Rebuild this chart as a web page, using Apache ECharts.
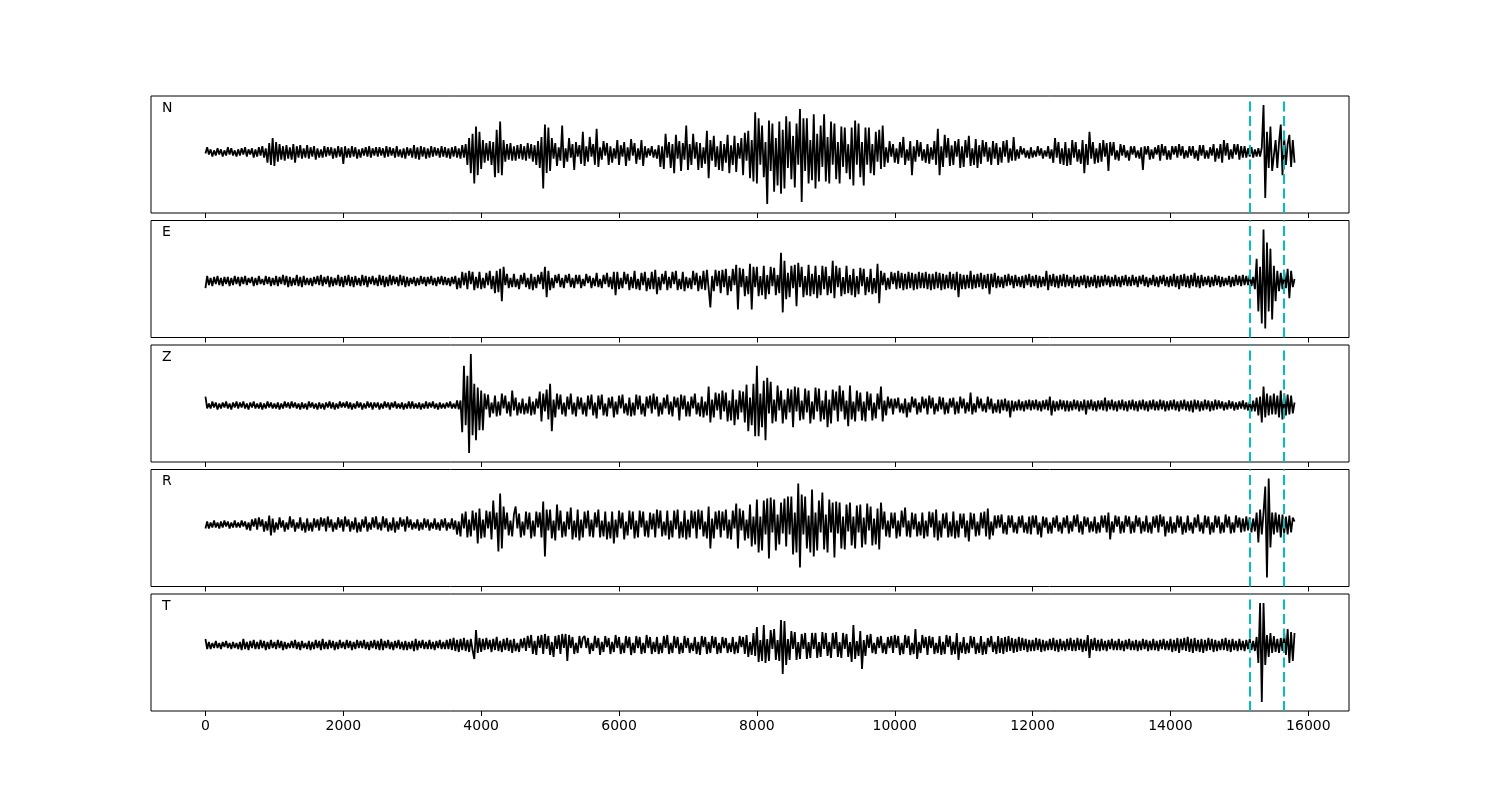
<!DOCTYPE html>
<html>
<head>
<meta charset="utf-8">
<script src="https://cdn.jsdelivr.net/npm/echarts@6/dist/echarts.min.js"></script>
<style>html,body{margin:0;padding:0;background:#fff}#c{width:1500px;height:800px}</style>
</head>
<body>
<div id="c"></div>
<script>
// sample spacing of the traces (x units); each row below = 500 x units
const STEP = 25;
const xTicks = [0, 2000, 4000, 6000, 8000, 10000, 12000, 14000, 16000];
const markers = [15150, 15650];
const labels = ['N', 'E', 'Z', 'R', 'T'];

const traceN = [
 -1, 5, -2, 3, -4, 2, -3, 4, -2, 3, -4, 2, -3, 5, -2, 4, -3, 2, -4, 3,
 -3, 4, -2, 5, -4, 3, -2, 4, -5, 3, -4, 5, -3, 6, -5, 4, -10, 9, -12, 14,
 -13, 10, -9, 8, -7, 6, -8, 7, -6, 5, -7, 8, -10, 6, -5, 7, -6, 4, -5, 7,
 -6, 5, -4, 6, -7, 4, -5, 3, -5, 6, -4, 5, -3, 5, -6, 4, -5, 6, -4, 5,
 -11, 6, -5, 4, -5, 6, -4, 5, -6, 3, -5, 4, -3, 5, -4, 6, -5, 4, -3, 5,
 -4, 5, -3, 4, -5, 6, -4, 5, -3, 4, -5, 6, -4, 3, -5, 4, -6, 5, -3, 4,
 -5, 7, -6, 5, -7, 6, -4, 5, -6, 4, -5, 6, -4, 5, -3, 4, -5, 6, -4, 5,
 -5, 4, -6, 5, -4, 6, -5, 4, -6, 7, -5, 8, -12, 14, -20, 18, -30, 25, -22, 20,
 -16, 12, -10, 9, -8, 11, -12, 10, -24, 22, -20, 30, -22, 12, -9, 8, -7, 9, -8, 6,
 -8, 7, -6, 8, -7, 6, -8, 9, -6, 8, -9, 7, -12, 11, -15, 15, -35, 27, -20, 24,
 -18, 14, -6, 9, -13, 5, -8, 26, -15, 4, -9, 14, -5, 8, -17, 10, -4, 7, -11, 20,
 -13, 6, -9, 15, -4, 8, -12, 23, -14, 5, -7, 11, -3, 9, -12, 6, -10, 4, -6, 12,
 -12, 7, -4, 10, -13, 5, -8, 13, -3, 9, -11, 4, -7, 12, -13, 6, -5, 4, -3, 6,
 -5, 3, -6, 7, -14, 6, -16, 18, -5, 10, -15, 8, -20, 17, -6, 11, -18, 9, -7, 26,
 -17, 8, -12, 18, -6, 10, -17, 9, -15, 5, -11, 21, -25, 12, -8, 16, -14, 6, -17, 11,
 -18, 8, -10, 17, -20, 7, -12, 16, -19, 9, -6, 14, -22, 19, -8, 21, -25, 12, -28, 39,
 -30, 33, -12, 26, -24, 10, -50, 31, -18, 28, -38, 14, -32, 30, -40, 22, -35, 35, -15, 30,
 -26, 16, -34, 28, -12, 42, -48, 33, -18, 33, -30, 12, -27, 37, -35, 18, -28, 26, -14, 37,
 -28, 15, -30, 30, -12, 28, -26, 10, -30, 25, -14, 24, -20, 8, -26, 24, -32, 31, -12, 28,
 -24, 10, -32, 24, -12, 24, -20, 8, -22, 20, -9, 22, -16, 26, -14, 5, -10, 11, -4, 8,
 -10, 4, -11, 10, -5, 15, -12, 3, -8, 11, -22, 6, -9, 12, -4, 10, -8, 3, -10, 8,
 -11, 5, -7, 11, -12, 23, -22, 6, -14, 17, -5, 14, -13, 7, -12, 11, -4, 13, -15, 6,
 -14, 12, -5, 16, -13, 4, -12, 13, -15, 7, -11, 12, -4, 10, -9, 5, -12, 11, -6, 9,
 -12, 5, -10, 11, -4, 12, -10, 4, -8, 15, -8, 3, -6, 6, -2, 4, -5, 2, -6, 5,
 -5, 2, -4, 6, -3, 4, -6, 2, -4, 6, -6, 3, -10, 14, -5, 10, -11, 4, -12, 10,
 -13, 4, -12, 12, -5, 10, -9, 3, -11, 12, -20, 8, -12, 20, -6, 10, -11, 4, -10, 9,
 -9, 12, -4, 9, -18, 10, -3, 10, -7, 2, -8, 8, -3, 7, -5, 2, -8, 6, -2, 6,
 -5, 2, -6, 5, -17, 6, -2, 6, -7, 3, -6, 5, -2, 7, -8, 8, -3, 6, -7, 2,
 -7, 6, -2, 6, -5, 8, -3, 6, -6, 2, -5, 6, -3, 6, -6, 2, -8, 7, -3, 7,
 -6, 2, -6, 5, -3, 8, -9, 4, -6, 8, -10, 12, -3, 9, -7, 3, -6, 8, -2, 8,
 -7, 6, -5, 6, -5, 4, -4, 5, -5, 3, -4, 4, -4, 5, 46, -44, 20, -15, 25, -18,
 -18, 12, -15, 10, 27, -22, 14, -12, 8, 17, -14, 12, -10
];

const traceE = [
 -7, 5, -4, 3, -5, 4, -3, 5, -4, 3, -5, 4, -3, 4, -5, 3, -4, 5, -3, 4,
 -5, 4, -3, 5, -4, 3, -2, 4, -5, 3, -4, 5, -3, 2, -4, 5, -3, 4, -5, 3,
 -4, 5, -5, 4, -3, 6, -4, 5, -6, 4, -5, 3, -4, 6, -5, 4, -6, 5, -4, 3,
 -4, 3, -5, 4, -3, 5, -4, 6, -5, 4, -3, 5, -6, 4, -5, 3, -4, 6, -5, 4,
 -6, 5, -4, 6, -5, 4, -6, 5, -4, 3, -5, 6, -4, 5, -6, 4, -3, 5, -4, 3,
 -5, 6, -4, 5, -6, 4, -5, 6, -4, 5, -3, 4, -5, 6, -4, 5, -6, 4, -5, 3,
 -3, 4, -5, 3, -4, 5, -3, 4, -5, 4, -3, 5, -4, 3, -5, 4, -3, 5, -4, 4,
 -4, 3, -5, 4, -3, 5, -8, 3, -7, 9, -4, 8, -8, 10, -3, 9, -9, 4, -7, 9,
 -8, 3, -7, 8, -4, 10, -8, 5, -12, 10, -11, 12, -20, 14, -4, 7, -7, 3, -6, 7,
 -6, 2, -8, 6, -3, 8, -6, 3, -8, 7, -9, 4, -7, 6, -3, 9, -8, 14, -16, 10,
 -9, 3, -7, 6, -2, 7, -6, 3, -7, 6, -2, 7, -6, 3, -7, 6, -3, 6, -7, 2,
 -5, 7, -2, 5, -7, 3, -5, 8, -6, 2, -7, 6, -3, 8, -6, 4, -8, 9, -14, 9,
 -8, 3, -7, 9, -3, 7, -9, 4, -7, 10, -8, 2, -9, 8, -4, 9, -10, 3, -8, 9,
 -8, 11, -13, 4, -9, 7, -3, 10, -9, 4, -7, 9, -3, 10, -9, 2, -8, 9, -10, 4,
 -7, 3, -8, 10, -4, 8, -10, 5, -8, 10, -9, 11, 12, -26, 5, -10, 11, -5, 10, -12,
 11, -6, 12, -14, 5, -10, 12, -4, 16, -28, 13, -6, 12, -15, 5, -13, 17, -28, 14, -6,
 14, -15, 5, -14, 15, -18, 6, -13, 14, -5, 13, -14, 6, -12, 28, -31, 20, -18, 8, -16,
 15, -7, 16, -25, 18, -6, 14, -16, 5, -14, 16, -15, 7, -13, 15, -17, 6, -14, 15, -8,
 14, -14, 5, -12, 20, -17, 15, -6, 13, -15, 4, -13, 15, -12, 6, -14, 12, -16, 5, -13,
 13, -5, 12, -14, 4, -11, 12, -13, 3, -12, 17, -22, 10, -4, 8, -9, 3, -8, 9, -3,
 8, -8, 10, -7, 8, -9, 7, -8, 9, -7, 8, -9, 7, -8, 9, -7, 8, -7, 9, -8,
 7, -9, 7, -8, 9, -7, 8, -9, 7, -8, 6, -7, 9, -8, 7, -9, 9, -16, 7, -8,
 6, -8, 6, -7, 10, -8, 6, -7, 7, -6, 8, -8, 6, -7, 7, -13, 7, -6, 8, -7,
 5, -6, 4, -7, 6, -5, 7, -4, 5, -7, 6, -5, 4, -6, 5, -7, 6, -4, 7, -6,
 5, -5, 6, -7, 5, -6, 4, -5, 10, -9, 6, -5, 7, -6, 5, -7, 6, -5, 7, -6,
 6, -5, 4, -7, 6, -5, 4, -6, 5, -4, 6, -7, 5, -6, 4, -5, 6, -7, 5, -6,
 5, -5, 6, -4, 5, -6, 4, -5, 6, -5, 4, -6, 5, -4, 6, -5, 4, -5, 6, -4,
 4, -6, 5, -3, 6, -5, 4, -6, 3, -4, 6, -5, 4, -6, 5, -3, 6, -5, 4, -6,
 5, -5, 7, -6, 5, -8, 6, -5, 7, -6, 5, -7, 6, -5, 8, -6, 5, -7, 6, -5,
 4, -4, 5, -6, 4, -5, 6, -4, 5, -6, 4, -5, 3, -4, 5, -6, 4, -5, 6, -4,
 5, -5, 6, -4, 5, -4, 6, -5, 4, -8, 22, -30, 14, -42, 51, -47, 38, -30, 32, -38,
 15, -20, 10, -10, 8, -8, 9, -7, 12, -17, 10, -6, 2
];

const traceZ = [
 9, -3, 2, -3, 4, -2, 3, -4, 2, -3, 3, -2, 4, -3, 2, -4, 3, -2, 4, -3,
 3, -2, 4, -3, 2, -4, 3, -2, 4, -3, 2, -3, 3, -4, 2, -3, 4, -2, 3, -3,
 2, -3, 3, -4, 2, -3, 4, -2, 3, -3, 4, -2, 3, -3, 2, -4, 3, -3, 2, -4,
 4, -2, 3, -3, 2, -4, 3, -3, 2, -4, 3, -2, 4, -3, 3, -4, 2, -3, 4, -2,
 3, -2, 4, -3, 3, -4, 2, -3, 4, -2, 3, -4, 2, -3, 4, -2, 3, -4, 3, -2,
 3, -4, 2, -3, 4, -2, 3, -4, 3, -2, 4, -3, 2, -3, 3, -4, 2, -3, 4, -3,
 4, -3, 2, -3, 3, -4, 2, -3, 4, -3, 3, -2, 4, -3, 2, -4, 3, -3, 2, -3,
 3, -2, 4, -3, 2, -3, 5, -4, 5, -27, 40, -20, 30, -48, 52, -30, 22, -35, 18, -25,
 15, -25, 12, -4, 11, -12, 3, -8, 10, -11, 4, -10, 12, -3, 10, -8, 4, -11, 15, -5,
 8, -10, 3, -8, 7, -9, 2, -8, 9, -10, 4, -9, 7, -3, 14, -16, 12, -6, 16, -14,
 22, -26, 6, -12, 12, -4, 11, -9, 3, -11, 9, -4, 12, -9, 3, -11, 9, -4, 8, -9,
 3, -11, 10, -4, 11, -10, 3, -13, 10, -4, 11, -10, 2, -11, 8, -3, 9, -12, 4, -9,
 10, -3, 11, -8, 2, -10, 8, -11, 3, -10, 11, -4, 10, -9, 2, -11, 9, -3, 10, -8,
 12, -4, 9, -11, 3, -9, 8, -3, 11, -9, 4, -11, 9, -2, 8, -15, 11, -4, 10, -11,
 4, -11, 9, -3, 12, -9, 3, -11, 9, -12, 4, -10, 19, -17, 6, -12, 13, -5, 12, -14,
 15, -6, 13, -16, 5, -15, 16, -20, 6, -14, 15, -7, 14, -17, 21, -26, 8, -20, 22, -31,
 40, -31, 12, -22, 25, -35, 28, -8, 24, -18, 6, -16, 20, -5, 15, -18, 6, -14, 17, -7,
 16, -22, 19, -6, 18, -15, 5, -14, 17, -7, 15, -18, 4, -14, 18, -6, 17, -16, 5, -14,
 15, -22, 6, -18, 16, -5, 14, -16, 20, -6, 15, -14, 5, -21, 20, -14, 4, -16, 15, -6,
 13, -15, 4, -16, 14, -5, 12, -15, 3, -13, 12, -4, 19, -16, 5, -10, 9, -3, 7, -9,
 7, -3, 8, -7, 2, -8, 7, -12, 3, -7, 9, -2, 7, -9, 3, -7, 9, -3, 7, -9,
 10, -3, 8, -9, 2, -6, 9, -4, 8, -9, 3, -8, 7, -2, 8, -9, 4, -8, 9, -3,
 7, -8, 3, -6, 13, -9, 2, -7, 9, -3, 7, -6, 2, -7, 9, -4, 7, -8, 2, -7,
 6, -8, 6, -5, 7, -6, 5, -12, 5, -6, 4, -5, 6, -5, 4, -6, 5, -4, 6, -5,
 5, -4, 6, -5, 4, -6, 5, -4, 6, -5, 9, -10, 5, -6, 4, -5, 6, -4, 5, -6,
 5, -6, 4, -5, 6, -4, 5, -6, 4, -5, 6, -9, 5, -4, 6, -5, 4, -6, 5, -4,
 5, -5, 8, -6, 5, -4, 6, -5, 4, -6, 5, -4, 6, -5, 4, -6, 5, -4, 6, -5,
 4, -6, 5, -4, 6, -5, 4, -6, 5, -4, 6, -5, 4, -5, 6, -4, 5, -6, 4, -5,
 5, -4, 6, -5, 4, -6, 5, -4, 6, -5, 4, -6, 5, -7, 6, -4, 5, -6, 4, -5,
 6, -4, 5, -6, 4, -5, 6, -4, 5, -3, 4, -5, 3, -4, 5, -3, 4, -5, 3, -4,
 4, -3, 5, -4, 3, -5, 4, -6, 5, -6, 8, -10, 9, -17, 19, -12, 12, -10, 10, -9,
 12, -9, 10, -12, 15, -14, 12, -10, 11, -9, 10, -8, 3
];

const traceR = [
 -4, 3, -4, 2, -3, 4, -3, 2, -4, 3, -3, 4, -2, 3, -4, 2, -3, 4, -3, 2,
 -3, 4, -2, 3, -5, 2, -6, 5, -2, 6, -5, 7, -2, 5, -7, 3, -6, 9, -11, 6,
 -8, 2, -5, 7, -3, 4, -7, 2, -5, 8, -3, 5, -7, 2, -4, 7, -6, 2, -8, 6,
 -6, 2, -7, 6, -3, 5, -6, 7, -2, 6, -7, 8, -3, 5, -7, 2, -5, 7, -3, 5,
 -7, 8, -2, 5, -7, 3, -5, 7, -8, 2, -7, 5, -3, 8, -7, 2, -5, 7, -3, 8,
 -5, 2, -6, 8, -3, 6, -7, 2, -6, 7, -8, 3, -5, 7, -2, 5, -7, 8, -3, 5,
 -5, 2, -4, 5, -6, 2, -5, 6, -3, 5, -6, 2, -4, 6, -5, 2, -6, 5, -3, 6,
 -6, 2, -4, 6, -5, 4, -10, 3, -12, 11, -4, 13, -13, 5, -12, 14, -6, 12, -19, 16,
 -14, 5, -13, 14, -4, 13, -15, 24, -5, 12, -27, 31, -24, 18, -5, 12, -11, 4, -12, 10,
 18, -4, 11, -13, 3, -11, 13, -5, 12, -14, 4, -12, 13, -3, 12, -13, 23, -32, 15, -6,
 15, -14, 4, -16, 20, -6, 14, -13, 3, -12, 13, -5, 17, -15, 4, -13, 15, -16, 5, -13,
 13, -4, 14, -12, 5, -13, 12, -3, 15, -13, 4, -12, 13, -15, 3, -14, 13, -19, 5, -13,
 14, -4, 12, -15, 3, -11, 14, -5, 13, -14, 4, -13, 14, -3, 13, -12, 4, -13, 12, -5,
 11, -13, 15, -4, 14, -12, 3, -11, 14, -15, 4, -13, 14, -5, 15, -14, 3, -13, 14, -15,
 5, -13, 14, -4, 13, -14, 15, -5, 14, -12, 3, -14, 18, -24, 6, -14, 13, -5, 14, -13,
 13, -6, 15, -14, 5, -15, 14, -4, 21, -24, 16, -6, 14, -16, 5, -14, 20, -22, 8, -20,
 25, -28, 8, -26, 24, -10, 26, -34, 27, -8, 25, -26, 10, -20, 22, -9, 26, -22, 28, -10,
 28, -30, 12, -28, 41, -43, 30, -10, 28, -24, 9, -28, 35, -32, 12, -26, 24, -8, 32, -25,
 10, -28, 25, -8, 22, -33, 23, -9, 22, -24, 8, -25, 20, -7, 22, -21, 8, -24, 19, -8,
 20, -23, 7, -20, 21, -6, 18, -21, 6, -20, 16, -25, 22, -5, 13, -12, 4, -13, 12, -4,
 12, -14, 4, -12, 14, -3, 17, -12, 4, -13, 12, -5, 11, -12, 3, -11, 12, -14, 4, -12,
 13, -3, 12, -13, 15, -16, 4, -13, 11, -4, 12, -13, 3, -12, 13, -14, 4, -13, 11, -4,
 11, -13, 4, -17, 12, -5, 11, -12, 3, -11, 12, -4, 13, -12, 16, -15, 3, -11, 9, -4,
 9, -3, 10, -9, 2, -10, 9, -3, 9, -8, 2, -9, 8, -3, 9, -8, 2, -9, 8, -10,
 9, -3, 9, -10, 2, -13, 8, -3, 7, -9, 2, -9, 7, -3, 9, -7, 2, -9, 7, -3,
 9, -9, 3, -7, 9, -2, 10, -8, 3, -10, 8, -2, 7, -8, 3, -7, 8, -9, 2, -8,
 9, -3, 9, -8, 12, -15, 3, -8, 9, -2, 8, -9, 3, -8, 9, -2, 8, -9, 3, -8,
 9, -2, 7, -9, 3, -7, 9, -8, 2, -9, 8, -3, 9, -8, 10, -2, 8, -12, 3, -8,
 8, -9, 2, -8, 9, -3, 8, -10, 2, -8, 9, -6, 2, -9, 7, -3, 10, -7, 2, -9,
 9, -3, 8, -10, 2, -8, 9, -3, 8, -9, 2, -8, 10, -3, 8, -9, 2, -8, 9, -3,
 7, -8, 6, -7, 8, -6, 7, -8, 6, -7, 12, -18, 15, -10, 12, 38, -53, 46, -23, 12,
 -10, 12, -8, 10, -13, 10, -9, 8, -10, 9, -8, 7, 3
];

const traceT = [
 6, -4, 3, -4, 2, -3, 4, -3, 2, -4, 3, -2, 4, -3, 2, -4, 3, -3, 2, -4,
 3, -5, 6, -4, 3, -5, 4, -3, 5, -4, 3, -4, 5, -3, 4, -5, 3, -4, 5, -3,
 3, -4, 5, -3, 4, -5, 3, -4, 2, -3, 4, -3, 5, -4, 3, -5, 4, -3, 2, -4,
 4, -5, 3, -4, 5, -3, 4, -5, 6, -4, 3, -4, 5, -3, 4, -5, 3, -4, 5, -3,
 3, -4, 5, -3, 4, -5, 3, -4, 5, -3, 4, -3, 5, -4, 3, -5, 4, -3, 5, -4,
 4, -5, 6, -5, 4, -3, 5, -4, 3, -5, 4, -3, 5, -4, 3, -5, 4, -5, 3, -4,
 4, -6, 6, -5, 4, -3, 5, -4, 3, -4, 5, -4, 3, -5, 4, -3, 5, -4, 3, -4,
 5, -4, 6, -5, 7, -6, 5, -7, 6, -5, 7, -6, 5, -7, 6, -5, -14, 15, -8, 7,
 -7, 6, -5, 7, -4, 5, -7, 6, -5, 8, -6, 4, -7, 6, -5, 7, -6, 5, -8, 6,
 -6, 2, -7, 6, -3, 7, -6, 9, -3, 10, -9, 4, -10, 9, -3, 10, -9, 11, -4, 9,
 -10, 3, -12, 9, -4, 10, -9, 11, -3, 11, -16, 10, -3, 8, -9, 2, -8, 9, -3, 7,
 9, -3, 7, -9, 2, -6, 9, -3, 7, -10, 3, -7, 9, -2, 7, -9, 3, -7, 10, -3,
 8, -9, 2, -8, 9, -3, 8, -10, 2, -8, 9, -3, 8, -9, 2, -8, 10, -3, 8, -9,
 3, -7, 8, -9, 2, -8, 9, -3, 10, -9, 2, -8, 9, -3, 8, -9, 2, -8, 9, -3,
 7, -8, 2, -6, 8, -9, 3, -10, 9, -2, 8, -9, 3, -8, 9, -3, 8, -9, 2, -8,
 8, -3, 7, -8, 2, -7, 8, -9, 3, -8, 9, -2, 8, -9, 10, -12, 3, -10, 12, -11,
 18, -17, 5, -16, 20, -18, 6, -16, 15, -4, 16, -15, 5, -16, 25, -29, 24, -20, 6, -15,
 14, -4, 13, -15, 3, -14, 11, -4, 12, -14, 3, -13, 12, -4, 12, -13, 3, -12, 13, -4,
 12, -11, 3, -13, 12, -4, 13, -12, 3, -13, 12, -4, 11, -12, 3, -17, 20, -14, 4, -11,
 14, -24, 5, -11, 10, -3, 11, -8, 2, -9, 8, -3, 9, -8, 2, -9, 8, -3, 9, -8,
 10, -3, 9, -10, 2, -9, 10, -3, 9, -10, 2, -9, 16, -14, 3, -8, 10, -3, 8, -10,
 9, -3, 8, -9, 2, -8, 9, -10, 3, -9, 10, -2, 9, -10, 3, -9, 12, -15, 3, -8,
 8, -9, 2, -8, 9, -3, 8, -9, 2, -8, 9, -10, 3, -9, 7, -2, 9, -7, 3, -9,
 9, -8, 7, -9, 8, -7, 9, -6, 7, -8, 6, -7, 8, -6, 7, -5, 6, -7, 5, -6,
 5, -6, 7, -5, 6, -7, 5, -6, 4, -5, 6, -5, 7, -6, 5, -7, 6, -5, 4, -6,
 6, -5, 7, -6, 5, -6, 7, -5, 6, -7, 5, -6, 10, -13, 6, -5, 7, -6, 5, -6,
 6, -5, 4, -6, 5, -4, 6, -5, 4, -5, 6, -5, 4, -6, 5, -4, 6, -5, 4, -5,
 5, -6, 4, -5, 6, -4, 5, -6, 4, -5, 6, -5, 4, -6, 5, -4, 6, -5, 4, -5,
 6, -7, 5, -6, 7, -8, 6, -5, 7, -6, 8, -7, 6, -8, 7, -6, 5, -7, 6, -8,
 5, -6, 7, -5, 6, -7, 5, -6, 4, -5, 6, -5, 7, -6, 5, -7, 6, -5, 4, -6,
 6, -5, 4, -6, 5, -4, 6, -5, 4, -6, 8, -18, 42, -57, 42, -20, 10, -12, 12, -8,
 9, -7, 6, -8, 7, -6, 12, -10, 16, -18, 13, -16, 12
];

const traces = [traceN, traceE, traceZ, traceR, traceT];

const PANEL_TOP = 96, PANEL_GAP = 124.5, PANEL_H = 117, LEFT = 151, RIGHT = 151;
const XMIN = -790, XMAX = 16590;

const chart = echarts.init(document.getElementById('c'), null, {renderer: 'canvas'});
const grids = [], xAxes = [], yAxes = [], series = [], graphics = [];
traces.forEach((tr, i) => {
  const top = PANEL_TOP + i * PANEL_GAP;
  grids.push({left: LEFT, right: RIGHT, top: top, height: PANEL_H, show: true,
    borderColor: '#000', borderWidth: 1, backgroundColor: 'transparent'});
  const last = i === traces.length - 1;
  xAxes.push({type: 'value', gridIndex: i, min: XMIN, max: XMAX, position: 'bottom',
    axisLine: {show: false, onZero: false},
    axisTick: {show: true, inside: false, length: 5, lineStyle: {color: '#000', width: 1}, customValues: xTicks},
    axisLabel: {show: last, color: '#000', fontFamily: 'DejaVu Sans', fontSize: 14, margin: 8,
      customValues: xTicks, formatter: v => String(v)},
    splitLine: {show: false}});
  const lo = Math.min(...tr), hi = Math.max(...tr), pad = 0.09 * (hi - lo);
  yAxes.push({type: 'value', gridIndex: i, min: lo - pad, max: hi + pad,
    axisLine: {show: false, onZero: false}, axisTick: {show: false}, axisLabel: {show: false}, splitLine: {show: false}});
  series.push({type: 'line', xAxisIndex: i, yAxisIndex: i,
    data: tr.map((v, k) => [k * STEP, v]),
    showSymbol: false, symbol: 'none', sampling: null, silent: true,
    lineStyle: {color: '#000', width: 1.8},
    markLine: {symbol: ['none', 'none'], silent: true, label: {show: false}, animation: false,
      lineStyle: {color: '#00bfbf', type: [10, 4.5], width: 2},
      emphasis: {disabled: true},
      data: markers.map(m => ({xAxis: m}))}});
  graphics.push({type: 'text', left: 162, top: top + 5,
    style: {text: labels[i], fill: '#000', font: '14px "DejaVu Sans"'}});
});

chart.setOption({
  animation: false,
  backgroundColor: '#fff',
  grid: grids, xAxis: xAxes, yAxis: yAxes, series: series, graphic: graphics
});
</script>
</body>
</html>
